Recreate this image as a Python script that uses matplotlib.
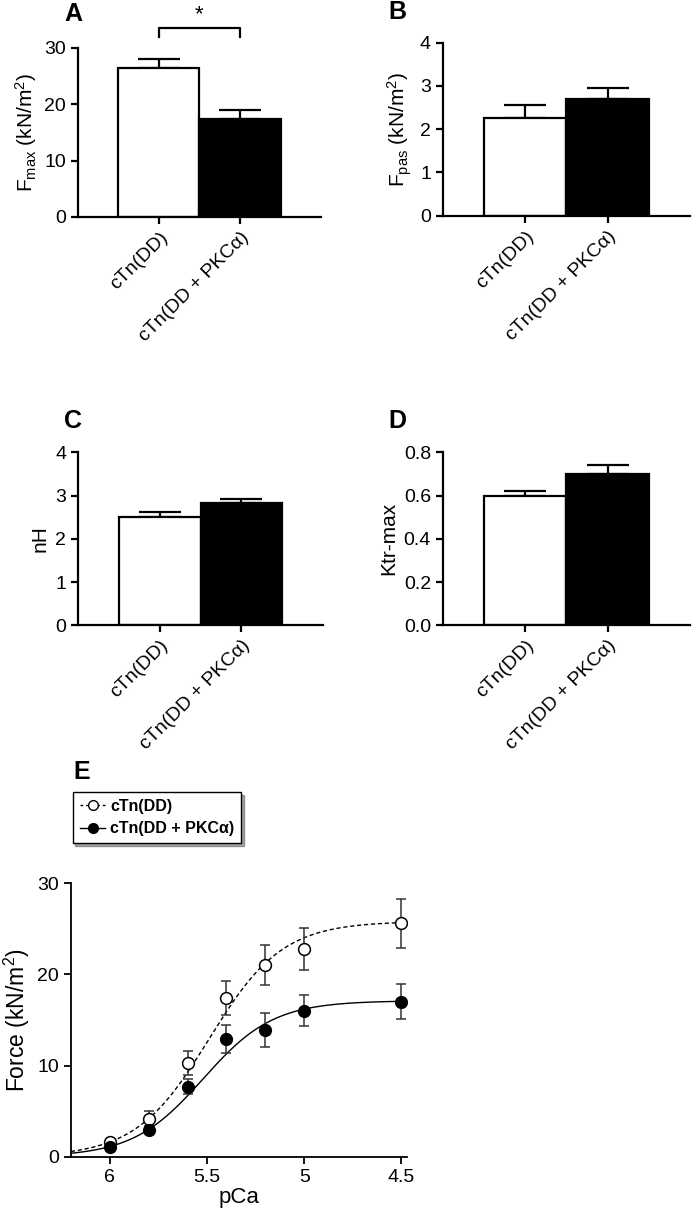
import numpy as np
import matplotlib
matplotlib.use("Agg")
import matplotlib.pyplot as plt

plt.rcParams["font.family"] = ["Liberation Sans", "DejaVu Sans"]
plt.rcParams["mathtext.fontset"] = "custom"
plt.rcParams["mathtext.rm"] = "Liberation Sans"
plt.rcParams["mathtext.it"] = "Liberation Sans:italic"
plt.rcParams["mathtext.bf"] = "Liberation Sans:bold"

# bar panels A-D
groups = ["cTn(DD)", "cTn(DD + PKC\u03b1)"]
fmax = [26.3, 17.4]
fmax_err = [1.7, 1.6]
fpas = [2.27, 2.70]
fpas_err = [0.29, 0.26]
nh = [2.50, 2.82]
nh_err = [0.11, 0.10]
ktr = [0.60, 0.70]
ktr_err = [0.02, 0.04]

# force-pCa panel E
pca = [6.0, 5.8, 5.6, 5.4, 5.2, 5.0, 4.5]
force_dd = [1.6, 4.2, 10.3, 17.4, 21.0, 22.8, 25.6]
force_dd_err = [0.3, 0.8, 1.3, 1.9, 2.2, 2.3, 2.7]
force_pkc = [1.1, 2.9, 7.7, 12.9, 13.9, 16.0, 17.0]
force_pkc_err = [0.2, 0.3, 0.8, 1.5, 1.9, 1.7, 1.9]
# Hill fit parameters (Fmax, pCa50, nH)
fit_dd = (25.8, 5.49, 2.3)
fit_pkc = (17.1, 5.52, 2.4)

fig = plt.figure(figsize=(6.95, 12.19), dpi=100)


def style_axes(ax, fs=14, lw=1.6):
    for s in ["top", "right"]:
        ax.spines[s].set_visible(False)
    for s in ["left", "bottom"]:
        ax.spines[s].set_linewidth(lw)
    ax.tick_params(width=lw, length=5, labelsize=fs, direction="out")


def bar_panel(rect, vals, errs, ylim, yticks, ylabel, letter, lx, ly, fmt=None):
    ax = fig.add_axes(rect)
    x = np.arange(len(vals))
    ax.bar(x, vals, width=1.0, color=["white", "black"], edgecolor="black",
           linewidth=1.6, zorder=2)
    ax.errorbar(x, vals, yerr=[[0, 0], errs], fmt="none", ecolor="black",
                elinewidth=1.6, capsize=15, capthick=1.6, zorder=1)
    ax.set_xlim(-1, 2)
    ax.set_ylim(*ylim)
    ax.set_yticks(yticks)
    if fmt:
        ax.set_yticklabels([fmt % t for t in yticks])
    ax.set_xticks(x)
    ax.set_xticklabels(groups, rotation=45, ha="right", rotation_mode="anchor",
                       fontsize=12)
    ax.set_ylabel(ylabel, fontsize=15)
    style_axes(ax)
    ax.text(lx, ly, letter, transform=ax.transAxes, fontsize=18,
            fontweight="bold", va="bottom")
    return ax


axA = bar_panel([0.112, 0.822, 0.35, 0.139], fmax, fmax_err, (0, 30),
                [0, 10, 20, 30], r"F$_{\mathrm{max}}$ (kN/m$^2$)", "A",
                -0.055, 1.13)
axA.plot([0, 0, 1, 1], [31.8, 33.4, 33.4, 31.8], color="black", lw=1.6,
         clip_on=False)
axA.text(0.5, 34.0, "*", ha="center", va="bottom", fontsize=16, clip_on=False)

bar_panel([0.637, 0.823, 0.356, 0.142], fpas, fpas_err, (0, 4),
          [0, 1, 2, 3, 4], r"F$_{\mathrm{pas}}$ (kN/m$^2$)", "B", -0.22, 1.11)
bar_panel([0.112, 0.487, 0.353, 0.142], nh, nh_err, (0, 4),
          [0, 1, 2, 3, 4], "nH", "C", -0.055, 1.11)
bar_panel([0.637, 0.487, 0.356, 0.142], ktr, ktr_err, (0, 0.8),
          [0, 0.2, 0.4, 0.6, 0.8], "Ktr-max", "D", -0.22, 1.11, fmt="%.1f")

# panel E
axE = fig.add_axes([0.102, 0.051, 0.484, 0.2246])
xs = np.linspace(6.2, 4.5, 300)


def hill(p, params):
    f, p50, n = params
    return f / (1 + 10 ** (n * (p - p50)))


axE.plot(xs, hill(xs, fit_dd), color="black", lw=1.0, ls=(0, (3, 2)))
axE.plot(xs, hill(xs, fit_pkc), color="black", lw=1.0)
axE.errorbar(pca, force_dd, yerr=force_dd_err, fmt="none", ecolor="#333333",
             elinewidth=1.1, capsize=3.5, capthick=1.1)
axE.errorbar(pca, force_pkc, yerr=force_pkc_err, fmt="none", ecolor="#333333",
             elinewidth=1.1, capsize=3.5, capthick=1.1)
axE.plot(pca, force_dd, "o", ms=8.5, mfc="white", mec="black", mew=1.1,
         zorder=4)
axE.plot(pca, force_pkc, "o", ms=8.5, mfc="black", mec="black", zorder=4)
axE.set_xlim(6.2, 4.47)
axE.set_ylim(0, 30)
axE.set_xticks([6, 5.5, 5, 4.5])
axE.set_xticklabels(["6", "5.5", "5", "4.5"])
axE.set_yticks([0, 10, 20, 30])
axE.set_xlabel("pCa", fontsize=16, labelpad=1)
axE.set_ylabel(r"Force (kN/m$^2$)", fontsize=16.5)
style_axes(axE, fs=14, lw=1.3)

h1, = axE.plot([], [], "o", ls=(0, (2, 2)), color="black", mfc="white",
               ms=7, lw=1.0)
h2, = axE.plot([], [], "o", ls="-", color="black", mfc="black", ms=7, lw=1.0)
leg = axE.legend([h1, h2], ["cTn(DD)", "cTn(DD + PKC\u03b1)"],
                 loc="lower left", bbox_to_anchor=(0.005, 1.145),
                 prop={"weight": "bold", "size": 11.5}, frameon=True,
                 fancybox=False, shadow=True, edgecolor="black",
                 handlelength=1.6, handletextpad=0.3, borderpad=0.45,
                 labelspacing=0.45, borderaxespad=0)
leg.get_frame().set_linewidth(1.0)
axE.text(0.006, 1.36, "E", transform=axE.transAxes, fontsize=18,
         fontweight="bold", va="bottom")

fig.savefig("out.png", dpi=100)
